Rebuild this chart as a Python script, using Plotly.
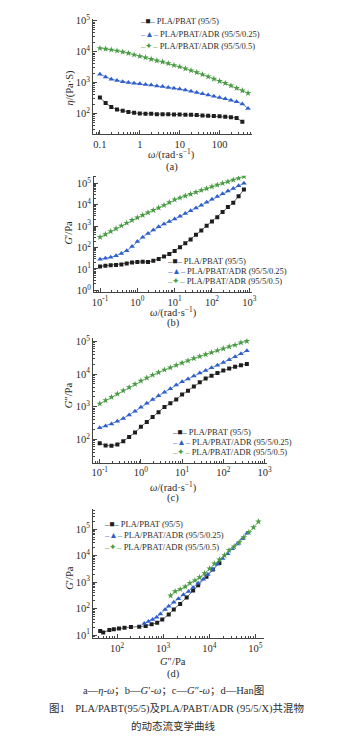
import plotly.graph_objects as go

W, H = 347, 743

# ---------------- data ----------------
OMEGA = [0.1, 0.139, 0.193, 0.268, 0.373, 0.518, 0.72, 1.0, 1.39, 1.93, 2.68,
         3.73, 5.18, 7.2, 10.0, 13.9, 19.3, 26.8, 37.3, 51.8, 72.0, 100, 139,
         193, 268, 373, 518, 720]

SERIES = ["PLA/PBAT (95/5)", "PLA/PBAT/ADR (95/5/0.25)", "PLA/PBAT/ADR (95/5/0.5)"]

# (a) complex viscosity, Pa·s
ETA_BLACK = [331, 219, 162, 135, 123, 112, 105, 100, 98, 98, 95, 95, 95, 93, 93,
             91, 91, 89, 87, 85, 83, 81, 79, 76, 72, 54]
ETA_BLUE = [1862, 1514, 1288, 1175, 1072, 1000, 955, 912, 871, 832, 776, 741, 692,
            661, 617, 575, 525, 479, 437, 398, 363, 331, 302, 269, 240, 204, 145]
ETA_GREEN = [12900, 12300, 11500, 10700, 9770, 8910, 7940, 7080, 6460, 5750, 5130,
             4680, 4170, 3630, 3240, 2820, 2450, 2140, 1820, 1550, 1320, 1120, 955,
             794, 661, 550, 457]

# (b) storage modulus G', Pa
GP_BLACK = [13.2, 14.1, 15.1, 15.5, 16.2, 18.2, 20.0, 21.4, 21.9, 21.4, 24.0, 29.5,
            38.0, 50.1, 69.2, 105, 158, 240, 398, 631, 1050, 1660, 2630, 4570,
            7940, 12600, 25100, 51300]
GP_BLUE = [28.8, 31.6, 35.5, 41.7, 52.5, 70.8, 112, 191, 302, 457, 661, 933, 1260,
           1660, 2140, 2880, 3890, 5250, 7080, 9550, 13200, 18200, 24500, 33100,
           43700, 57500, 77600, 102000]
GP_GREEN = [309, 417, 575, 776, 1050, 1410, 1910, 2510, 3310, 4270, 5620, 7240,
            9550, 12900, 17400, 21400, 26300, 31600, 38900, 47900, 57500, 70800,
            85100, 102000, 120000, 145000, 174000, 214000]

# (c) loss modulus G'', Pa
GPP_BLACK = [75.9, 64.6, 63.1, 69.2, 87.1, 117, 162, 240, 339, 479, 676, 977, 1260,
             1660, 2340, 3090, 4170, 5620, 7240, 8910, 10700, 12900, 14800, 16600,
             18600, 20400]
GPP_BLUE = [224, 257, 295, 355, 437, 550, 724, 955, 1260, 1660, 2140, 2750, 3550,
            4570, 5750, 7080, 8710, 10700, 12900, 15500, 18600, 22400, 27500, 33900,
            41700, 51300]
GPP_GREEN = [1230, 1550, 1950, 2450, 3090, 3890, 4900, 6170, 7590, 9330, 11200,
             13500, 15800, 18600, 21900, 25700, 30200, 34700, 39800, 45700, 52500,
             60300, 69200, 77600, 91200, 102000]

# (d) Han plot: x = G'', y = G'
HAN_BLACK_X = [43, 50, 68, 85, 110, 145, 200, 302, 417, 562, 741, 955, 1320, 1700,
               2340, 3240, 4470, 5750, 8710, 12000, 16600]
HAN_BLACK_Y = [14.5, 12.6, 15.8, 16.6, 17.8, 19.1, 20.4, 20.9, 22.4, 25.7, 29.5,
               38.9, 60.3, 93.3, 151, 263, 479, 759, 1580, 3020, 5250]
HAN_BLUE_X = [389, 479, 589, 724, 871, 1100, 1320, 1700, 2140, 2750, 3550, 4470,
              5750, 7410, 9330, 12000, 15100, 19500, 25100, 31600, 40700, 52500, 66100]
HAN_BLUE_Y = [27.5, 33.1, 38.9, 47.9, 63.1, 93.3, 123, 174, 234, 331, 447, 631, 912,
              1290, 1950, 3020, 4680, 7760, 11700, 18200, 27500, 42700, 69200]
HAN_GREEN_X = [1450, 1820, 2340, 3020, 3800, 4900, 6170, 7940, 10200, 12900, 16600,
               21400, 26900, 34700, 44700, 56200, 72400, 91200, 117000]
HAN_GREEN_Y = [309, 447, 537, 676, 912, 1150, 1510, 2140, 3240, 5010, 7080, 10200,
               15800, 21900, 31600, 49000, 75900, 115000, 191000]

# ---------------- styling ----------------
FONT = "Liberation Serif, Times New Roman, Noto Sans CJK SC, serif"
TXT = "#2b2b2b"
AX = "#444444"
MK = [dict(color="#1e1e1e", symbol="square", size=4),
      dict(color="#2f5fc9", symbol="triangle-up", size=5),
      dict(color="#4a9a45", symbol="star", size=5)]
LN = ["#6f6f6f", "#6d8fdc", "#74b86c"]
GLYPH = ["■", "▲", "✦"]


def px(x):
    return x / W


def py(y):
    return 1 - y / H


def sup(n):
    s = str(n) if n >= 0 else "-" + str(-n)
    return "10<sup>" + s + "</sup>"


fig = go.Figure()


def add(xs, ys, i, ax):
    fig.add_trace(go.Scatter(
        x=xs, y=ys, mode="lines+markers", name=SERIES[i],
        xaxis="x" + ax, yaxis="y" + ax, showlegend=False,
        marker=dict(color=MK[i]["color"], symbol=MK[i]["symbol"], size=MK[i]["size"],
                    line=dict(width=0)),
        line=dict(color=LN[i], width=1)))


add(OMEGA[:len(ETA_BLACK)], ETA_BLACK, 0, "")
add(OMEGA[:len(ETA_BLUE)], ETA_BLUE, 1, "")
add(OMEGA[:len(ETA_GREEN)], ETA_GREEN, 2, "")

add(OMEGA[:len(GP_BLACK)], GP_BLACK, 0, "2")
add(OMEGA[:len(GP_BLUE)], GP_BLUE, 1, "2")
add(OMEGA[:len(GP_GREEN)], GP_GREEN, 2, "2")

add(OMEGA[:len(GPP_BLACK)], GPP_BLACK, 0, "3")
add(OMEGA[:len(GPP_BLUE)], GPP_BLUE, 1, "3")
add(OMEGA[:len(GPP_GREEN)], GPP_GREEN, 2, "3")

add(HAN_BLACK_X, HAN_BLACK_Y, 0, "4")
add(HAN_BLUE_X, HAN_BLUE_Y, 1, "4")
add(HAN_GREEN_X, HAN_GREEN_Y, 2, "4")


def axis(domain, rng, tickvals, ticktext, anchor):
    return dict(
        type="log", domain=domain, range=rng, anchor=anchor,
        tickmode="array", tickvals=tickvals, ticktext=ticktext,
        showline=True, linecolor=AX, linewidth=1, mirror=False,
        ticks="inside", ticklen=4, tickwidth=1, tickcolor=AX,
        minor=dict(ticks="inside", ticklen=2, tickwidth=0.8, tickcolor=AX,
                   dtick="D1", showgrid=False),
        showgrid=False, zeroline=False,
        tickfont=dict(family=FONT, size=10.5, color=TXT),
    )


dec = lambda a, b: [10 ** k for k in range(a, b + 1)]
lab = lambda a, b: [sup(k) for k in range(a, b + 1)]

layout = dict(
    width=W, height=H, margin=dict(l=0, r=0, t=0, b=0),
    paper_bgcolor="white", plot_bgcolor="white", showlegend=False,
    font=dict(family=FONT, color=TXT),
    # (a)
    xaxis=axis([px(93), px(255)], [-1.17, 2.81], [0.1, 1, 10, 100],
               ["0.1", "1", "10", "100"], "y"),
    yaxis=axis([py(130), py(13)], [1.33, 5.06], dec(2, 5), lab(2, 5), "x"),
    # (b)
    xaxis2=axis([px(94), px(255)], [-1.16, 3.07], dec(-1, 3), lab(-1, 3), "y2"),
    yaxis2=axis([py(290), py(172)], [-0.08, 5.36], dec(0, 5), lab(0, 5), "x2"),
    # (c)
    xaxis3=axis([px(93), px(270)], [-1.16, 3.05], dec(-1, 3), lab(-1, 3), "y3"),
    yaxis3=axis([py(463), py(337)], [1.28, 5.09], dec(2, 5), lab(2, 5), "x3"),
    # (d)
    xaxis4=axis([px(93), px(267)], [1.48, 5.18], dec(2, 5), lab(2, 5), "y4"),
    yaxis4=axis([py(641), py(510)], [0.88, 5.75], dec(1, 5), lab(1, 5), "x4"),
)
fig.update_layout(**layout)

ann = []


def text(x, y, t, size=10.5, angle=0, xanchor="center"):
    ann.append(dict(x=px(x), y=py(y), xref="paper", yref="paper", text=t,
                    showarrow=False, xanchor=xanchor, yanchor="middle",
                    textangle=angle, font=dict(family=FONT, size=size, color=TXT)))


OMEGA_T = "<i>ω</i>/(rad·s<sup>−1</sup>)"

# axis titles
text(69, 83, "<i>η</i>/(Pa·S)", angle=-90)
text(173, 150, OMEGA_T)
text(173, 163, "(a)")

text(68, 230, "<i>G</i>′/Pa", angle=-90)
text(175, 310, OMEGA_T)
text(175, 321, "(b)")

text(68, 395, "<i>G</i>″/Pa", angle=-90)
text(175, 488, OMEGA_T)
text(175, 499, "(c)")

text(69, 580, "<i>G</i>′/Pa", angle=-90)
text(175, 664, "<i>G</i>″/Pa")
text(175, 677, "(d)")

# legends (one per panel)
def legend(x, ys):
    for i, y in enumerate(ys):
        t = ("<span style='color:%s'>–%s–</span> %s" % (MK[i]["color"], GLYPH[i], SERIES[i]))
        text(x, y, t, size=8.5, xanchor="left")


legend(139, [15, 28, 41])
legend(166, [258, 268.5, 279])
legend(171, [432, 442, 452])
legend(102, [525, 536.5, 548])

# caption
text(175, 694, "a—<i>η</i>-<i>ω</i>；b—<i>G</i>′-<i>ω</i>；c—<i>G</i>″-<i>ω</i>；d—Han图", size=10.5)
text(178, 712, "图1　PLA/PABT(95/5)及PLA/PABT/ADR (95/5/X)共混物", size=10.5)
text(175, 730, "的动态流变学曲线", size=10.5)

fig.update_layout(annotations=ann)
fig.write_html("out.html")
